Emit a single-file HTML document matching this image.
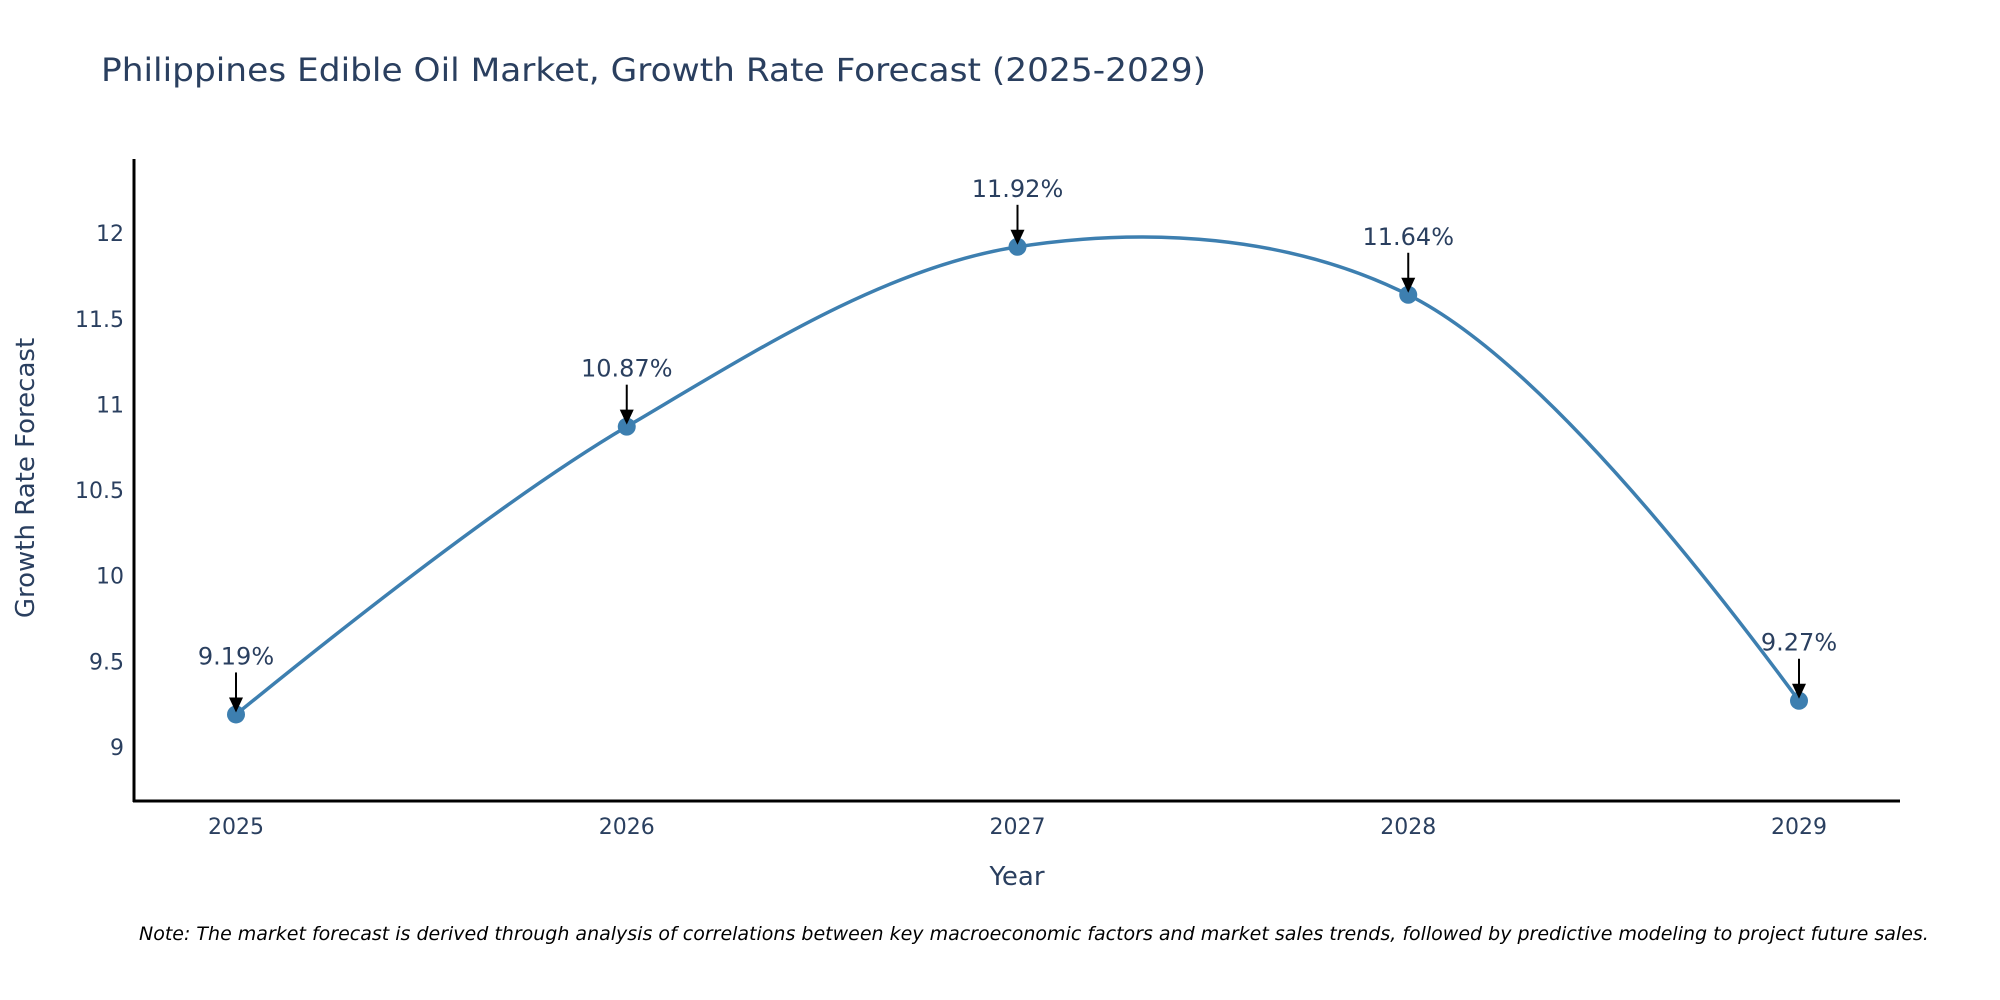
<!DOCTYPE html>
<html><head><meta charset="utf-8"><style>
html,body{margin:0;padding:0;background:#fff;}
svg{display:block;font-family:"DejaVu Sans","Liberation Sans",sans-serif;}
</style></head><body>
<svg id="chart" width="2000" height="1000">
<text x="101" y="81" font-size="32" fill="#2a3f5f" textLength="1105" lengthAdjust="spacingAndGlyphs">Philippines Edible Oil Market, Growth Rate Forecast (2025-2029)</text>
<line x1="134" y1="159" x2="134" y2="802" stroke="#000" stroke-width="3"/>
<line x1="133" y1="801" x2="1900" y2="801" stroke="#000" stroke-width="3"/>
<g id="yticks"></g><g id="xticks"></g>
<path id="curve" fill="none" stroke="#3d7fb0" stroke-width="3.5"/>
<g id="points"></g><g id="annots"></g>
<text x="1017" y="885" font-size="26" fill="#2a3f5f" text-anchor="middle">Year</text>
<text transform="translate(34,478) rotate(-90)" font-size="26" fill="#2a3f5f" text-anchor="middle">Growth Rate Forecast</text>
<text x="139" y="940" font-size="19" font-style="italic" fill="#000">Note: The market forecast is derived through analysis of correlations between key macroeconomic factors and market sales trends, followed by predictive modeling to project future sales.</text>
</svg>
<script>
const years=[2025,2026,2027,2028,2029];
const values=[9.19,10.87,11.92,11.64,9.27];
const labels=["9.19%","10.87%","11.92%","11.64%","9.27%"];
const yTicks=[9,9.5,10,10.5,11,11.5,12];
const yTickLabels=["9","9.5","10","10.5","11","11.5","12"];
const NS="http://www.w3.org/2000/svg";
function xs(v){return 236+(v-2025)*390.75;}
function ys(v){return 747-(v-9)*171.3;}
function mk(tag,attrs,parent){const e=document.createElementNS(NS,tag);for(const k in attrs)e.setAttribute(k,attrs[k]);document.getElementById(parent).appendChild(e);return e;}
yTicks.forEach((t,i)=>{const e=mk('text',{x:124,y:ys(t)+8,'font-size':22,fill:'#2a3f5f','text-anchor':'end'},'yticks');


e.textContent=yTickLabels[i];});
years.forEach(y=>{const e=mk('text',{x:xs(y),y:834,'font-size':22,fill:'#2a3f5f','text-anchor':'middle'},'xticks');


e.textContent=String(y);});
const P=years.map((y,i)=>[xs(y),ys(values[i])]);
function ctrl(p0,p1,p2,s){
  const d1x=p0[0]-p1[0],d1y=p0[1]-p1[1],d2x=p2[0]-p1[0],d2y=p2[1]-p1[1];
  const d1a=Math.pow(d1x*d1x+d1y*d1y,0.25),d2a=Math.pow(d2x*d2x+d2y*d2y,0.25);
  const nx=(d2a*d2a*d1x-d1a*d1a*d2x)*s,ny=(d2a*d2a*d1y-d1a*d1a*d2y)*s;
  const den1=3*d2a*(d1a+d2a),den2=3*d1a*(d1a+d2a);
  return [[p1[0]+nx/den1,p1[1]+ny/den1],[p1[0]-nx/den2,p1[1]-ny/den2]];
}
const T=[];for(let i=1;i<P.length-1;i++)T.push(ctrl(P[i-1],P[i],P[i+1],1));
let d='M'+P[0]+' Q'+T[0][0]+' '+P[1];
for(let i=2;i<P.length-1;i++)d+=' C'+T[i-2][1]+' '+T[i-1][0]+' '+P[i];
d+=' Q'+T[P.length-3][1]+' '+P[P.length-1];
document.getElementById('curve').setAttribute('d',d);
P.forEach((p,i)=>{const c=mk('circle',{cx:p[0],cy:p[1],r:9,fill:'#3d7fb0'},'points');


const l=mk('line',{x1:p[0],y1:p[1]-42,x2:p[0],y2:p[1]-14,stroke:'#000','stroke-width':2},'annots');


const a=mk('polygon',{points:(p[0]-7)+','+(p[1]-17)+' '+(p[0]+7)+','+(p[1]-17)+' '+p[0]+','+(p[1]-2),fill:'#000'},'annots');


const t=mk('text',{x:p[0],y:p[1]-50,'font-size':24,fill:'#2a3f5f','text-anchor':'middle'},'annots');


t.textContent=labels[i];});
</script>
</body></html>
